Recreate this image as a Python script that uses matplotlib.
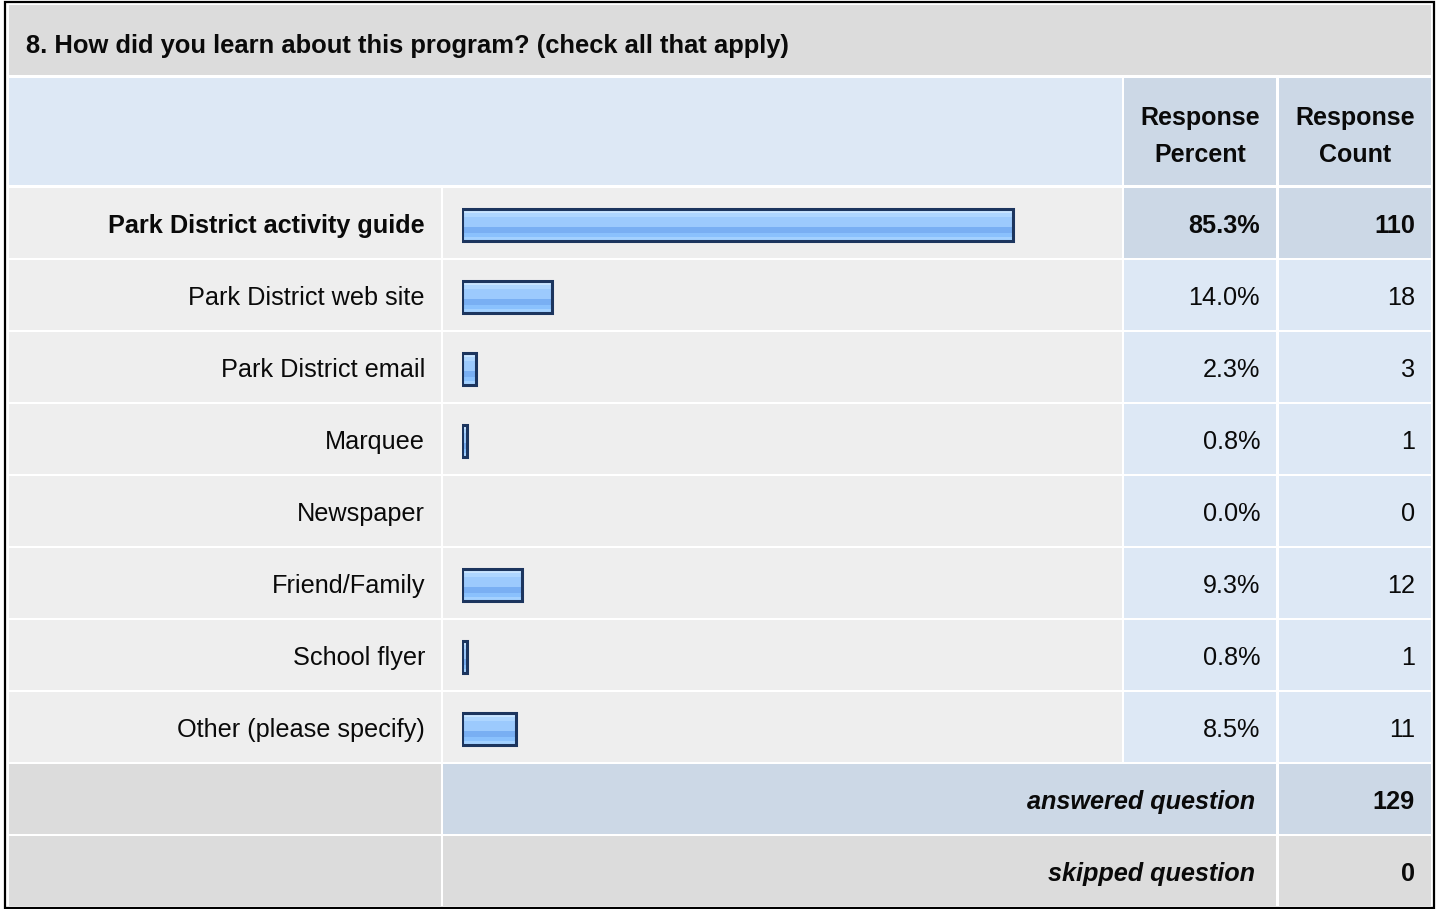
import matplotlib
matplotlib.use("Agg")
import matplotlib.pyplot as plt
from matplotlib.patches import Rectangle

plt.rcParams['font.family'] = ['Liberation Sans', 'DejaVu Sans']

# ---------------- data ----------------
title = "8. How did you learn about this program? (check all that apply)"
categories = ["Park District activity guide", "Park District web site", "Park District email",
              "Marquee", "Newspaper", "Friend/Family", "School flyer", "Other (please specify)"]
percents = [85.3, 14.0, 2.3, 0.8, 0.0, 9.3, 0.8, 8.5]
counts = [110, 18, 3, 1, 0, 12, 1, 11]
header_percent = ["Response", "Percent"]
header_count = ["Response", "Count"]
answered_label = "answered question"
answered_count = 129
skipped_label = "skipped question"
skipped_count = 0

# ---------------- layout (pixels) ----------------
W, H = 1437, 909
fig = plt.figure(figsize=(W / 100, H / 100), dpi=100)
ax = fig.add_axes([0, 0, 1, 1])
ax.set_xlim(0, W)
ax.set_ylim(H, 0)
ax.axis('off')

GRAY = "#DCDCDC"
ROWBG = "#EEEEEE"
LBLUE = "#DDE8F5"
DBLUE = "#CCD8E6"
TXT = "#0A0A0A"
FS = 18.2

x_lab0, x_lab1 = 9, 441
x_bar0, x_bar1 = 443, 1122
x_pct0, x_pct1 = 1124, 1276
x_cnt0, x_cnt1 = 1279, 1431
row0 = 188
pitch = 72
rh = 70
base_off = 45

def cell(x0, x1, y0, y1, color):
    ax.add_patch(Rectangle((x0, y0), x1 - x0, y1 - y0, facecolor=color, edgecolor='none'))

# outer border
ax.add_patch(Rectangle((4.5, 2), 1434 - 4.5, 908 - 2, facecolor='white',
                       edgecolor='black', linewidth=1.6))

# title row
cell(x_lab0, x_cnt1, 5, 75, GRAY)
ax.text(26, 53, title, fontsize=18.4, fontweight='bold', va='baseline', ha='left', color=TXT)

# header row
cell(x_lab0, x_bar1, 78, 185, LBLUE)
cell(x_pct0, x_pct1, 78, 185, DBLUE)
cell(x_cnt0, x_cnt1, 78, 185, DBLUE)
for k, (a, b) in enumerate(zip(header_percent, header_count)):
    yb = 125.5 + 36.7 * k
    ax.text((x_pct0 + x_pct1) / 2, yb, a, fontsize=18, fontweight='bold',
            ha='center', va='baseline', color=TXT)
    ax.text((x_cnt0 + x_cnt1) / 2, yb, b, fontsize=18, fontweight='bold',
            ha='center', va='baseline', color=TXT)

# data rows
for i, (cat, p, c) in enumerate(zip(categories, percents, counts)):
    y0 = row0 + pitch * i
    y1 = y0 + rh
    yb = y0 + base_off
    hl = (i == 0)
    cell(x_lab0, x_lab1, y0, y1, ROWBG)
    cell(x_bar0, x_bar1, y0, y1, ROWBG)
    cell(x_pct0, x_pct1, y0, y1, DBLUE if hl else LBLUE)
    cell(x_cnt0, x_cnt1, y0, y1, DBLUE if hl else LBLUE)
    fw = 'bold' if hl else 'normal'
    ax.text(425, yb, cat, fontsize=FS, fontweight=fw, ha='right', va='baseline', color=TXT)
    ax.text(1260, yb, f"{p:.1f}%", fontsize=FS, fontweight=fw, ha='right', va='baseline', color=TXT)
    ax.text(1415, yb, f"{c}", fontsize=FS, fontweight=fw, ha='right', va='baseline', color=TXT)

# footer rows
fy0 = row0 + pitch * len(categories)
cell(x_lab0, x_lab1, fy0, fy0 + rh, GRAY)
cell(x_bar0, x_pct1, fy0, fy0 + rh, DBLUE)
cell(x_cnt0, x_cnt1, fy0, fy0 + rh, DBLUE)
ax.text(1255, fy0 + base_off, answered_label, fontsize=FS, fontweight='bold', fontstyle='italic',
        ha='right', va='baseline', color=TXT)
ax.text(1415, fy0 + base_off, f"{answered_count}", fontsize=FS, fontweight='bold',
        ha='right', va='baseline', color=TXT)
fy1 = fy0 + pitch
cell(x_lab0, x_lab1, fy1, fy1 + rh, GRAY)
cell(x_bar0, x_pct1, fy1, fy1 + rh, GRAY)
cell(x_cnt0, x_cnt1, fy1, fy1 + rh, GRAY)
ax.text(1255, fy1 + base_off, skipped_label, fontsize=FS, fontweight='bold', fontstyle='italic',
        ha='right', va='baseline', color=TXT)
ax.text(1415, fy1 + base_off, f"{skipped_count}", fontsize=FS, fontweight='bold',
        ha='right', va='baseline', color=TXT)

# ---------------- bars (own axes, x in percent) ----------------
px0 = 461.5          # pixel of 0 %
px_per_pct = 6.47
bax = fig.add_axes([px0 / W, 1 - (row0 + pitch * len(categories)) / H,
                    100 * px_per_pct / W, pitch * len(categories) / H])
bax.set_xlim(0, 100)
bax.set_ylim(len(categories) - 0.5, -0.5)
bax.axis('off')
bax.patch.set_alpha(0)

idx = [i for i, p in enumerate(percents) if p > 0]
vals = [percents[i] for i in idx]
ypos = [i + 0.015 for i in idx]
bh = 0.45
bands = [(0.00, 0.12, "#C8E4FF"), (0.12, 0.26, "#AED6FF"), (0.26, 0.56, "#9CCAFD"),
         (0.56, 0.74, "#79AFF3"), (0.74, 0.88, "#8AC1FD"), (0.88, 1.00, "#A3D1FF")]
for f0, f1, col in bands:
    ycent = [y - bh / 2 + (f0 + f1) / 2 * bh for y in ypos]
    bax.barh(ycent, vals, height=(f1 - f0) * bh * 1.03, left=0, color=col,
             linewidth=0, antialiased=False)
bax.barh(ypos, vals, height=bh, left=0, facecolor='none', edgecolor='#1C355E', linewidth=2.2)

fig.savefig("out.png", dpi=100)
